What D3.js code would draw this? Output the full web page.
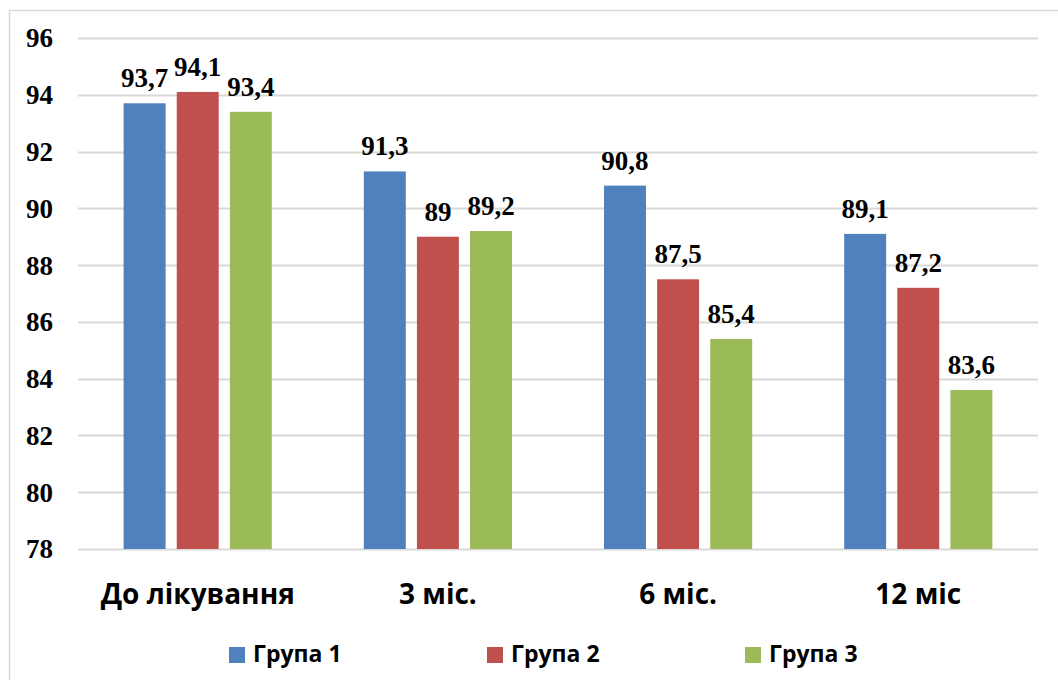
<!DOCTYPE html>
<html>
<head>
<meta charset="utf-8">
<script src="https://cdn.jsdelivr.net/npm/d3@7"></script>
<style>
  html, body { margin: 0; padding: 0; background: #fff; }
  svg { display: block; }
</style>
</head>
<body>
<svg id="chart" width="1058" height="680"></svg>
<script>
// Periods of observation
const categories = ["До лікування", "3 міс.", "6 міс.", "12 міс"];
// Series
const seriesNames = ["Група 1", "Група 2", "Група 3"];
const group1 = [93.7, 91.3, 90.8, 89.1];
const group2 = [94.1, 89.0, 87.5, 87.2];
const group3 = [93.4, 89.2, 85.4, 83.6];
const yTicks = [78, 80, 82, 84, 86, 88, 90, 92, 94, 96];
const colors = ["#4F81BD", "#C0504D", "#9BBB59"];

const series = [group1, group2, group3];

const svg = d3.select("#chart");
const W = 1058, H = 680;
const plot = { left: 78, right: 1038, top: 38, bottom: 549 };

// Outer frame of the chart area
svg.append("rect")
  .attr("x", 9.5).attr("y", 10.5)
  .attr("width", W + 10).attr("height", H + 10)
  .attr("fill", "#fff")
  .attr("stroke", "#d9d9d9").attr("stroke-width", 1.5);

const y = d3.scaleLinear().domain([78, 96]).range([plot.bottom, plot.top]);
const x0 = d3.scaleBand().domain(categories).range([plot.left, plot.right]).paddingInner(0.383).paddingOuter(0.19);
const x1 = d3.scaleBand().domain(seriesNames).range([0, x0.bandwidth()]).paddingInner(0.21);

// Gridlines
svg.append("g")
  .selectAll("line")
  .data(yTicks)
  .join("line")
  .attr("x1", plot.left).attr("x2", plot.right)
  .attr("y1", d => Math.round(y(d)) + 0.5).attr("y2", d => Math.round(y(d)) + 0.5)
  .attr("stroke", "#d9d9d9").attr("stroke-width", 2);

// Y axis labels
const yAxis = d3.axisLeft(y).tickValues(yTicks).tickSize(0).tickPadding(0).tickFormat(d3.format("d"));
const gy = svg.append("g").attr("transform", `translate(53,0)`).call(yAxis);
gy.select(".domain").remove();
gy.selectAll("text")
  .attr("font-family", "'Liberation Serif', 'Times New Roman', serif")
  .attr("font-weight", "bold")
  .attr("font-size", 27)
  .attr("fill", "#000")
  .attr("dy", "0.33em");

// Bars
const groups = svg.append("g")
  .selectAll("g")
  .data(categories)
  .join("g")
  .attr("transform", d => `translate(${x0(d)},0)`);

groups.selectAll("rect")
  .data((d, i) => series.map((s, k) => ({ name: seriesNames[k], value: s[i], k })))
  .join("rect")
  .attr("x", d => x1(d.name))
  .attr("y", d => y(d.value))
  .attr("width", x1.bandwidth())
  .attr("height", d => y(78) - y(d.value))
  .attr("fill", d => colors[d.k]);

// Value labels
const fmt = v => (Number.isInteger(v) ? String(v) : String(v).replace(".", ","));
groups.selectAll("text.value")
  .data((d, i) => series.map((s, k) => ({ name: seriesNames[k], value: s[i], k })))
  .join("text")
  .attr("class", "value")
  .attr("x", d => x1(d.name) + x1.bandwidth() / 2)
  .attr("y", d => y(d.value) - 16)
  .attr("text-anchor", "middle")
  .attr("font-family", "'Liberation Serif', 'Times New Roman', serif")
  .attr("font-weight", "bold")
  .attr("font-size", 27)
  .attr("fill", "#000")
  .text(d => fmt(d.value));

// Category axis labels
const xAxis = d3.axisBottom(x0).tickSize(0).tickPadding(0);
const gx = svg.append("g").attr("transform", `translate(0,604)`).call(xAxis);
gx.select(".domain").remove();
gx.selectAll("text")
  .attr("dy", 0)
  .attr("y", 0)
  .attr("font-family", "'Open Sans', 'Liberation Sans', sans-serif")
  .attr("font-weight", "bold")
  .attr("font-size", 28)
  .attr("fill", "#000");

// Legend
const legend = svg.append("g")
  .selectAll("g")
  .data(seriesNames)
  .join("g")
  .attr("transform", (d, i) => `translate(${229 + i * 258},647)`);
legend.append("rect")
  .attr("width", 16).attr("height", 16)
  .attr("fill", (d, i) => colors[i]);
legend.append("text")
  .attr("x", 24).attr("y", 15)
  .attr("font-family", "'Open Sans', 'Liberation Sans', sans-serif")
  .attr("font-weight", "bold")
  .attr("font-size", 23)
  .attr("fill", "#000")
  .text(d => d);
</script>
</body>
</html>
